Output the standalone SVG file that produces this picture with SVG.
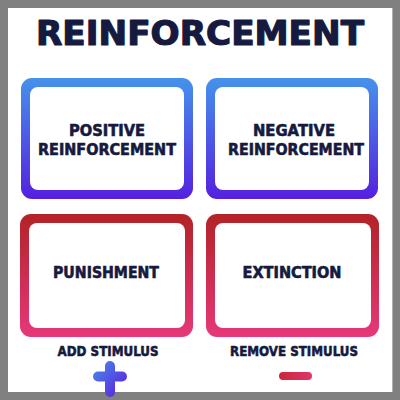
<svg xmlns="http://www.w3.org/2000/svg" width="400" height="400" viewBox="0 0 400 400">
<defs>
<linearGradient id="gBlue" x1="0" y1="0" x2="0" y2="1"><stop offset="0" stop-color="#4592ea"/><stop offset="1" stop-color="#5520e0"/></linearGradient>
<linearGradient id="gRed" x1="0" y1="0" x2="0" y2="1"><stop offset="0" stop-color="#b22327"/><stop offset="1" stop-color="#e6387a"/></linearGradient>
<linearGradient id="gPlus" x1="0" y1="0" x2="1" y2="1"><stop offset="0" stop-color="#4a7ee8"/><stop offset="1" stop-color="#5a28e0"/></linearGradient>
<linearGradient id="gMinus" x1="0" y1="0" x2="1" y2="0"><stop offset="0" stop-color="#c8283a"/><stop offset="1" stop-color="#e2356e"/></linearGradient>
<style>
.lbl{font-family:"DejaVu Sans","Liberation Sans",sans-serif;font-weight:bold;fill:#151a3e;stroke:#151a3e;stroke-width:0.6;stroke-linejoin:round;text-anchor:middle}
.box{font-size:15px}
.inner{fill:#ffffff}
</style>
</defs>
<rect x="0" y="0" width="400" height="400" fill="#808080"/>
<rect x="8" y="8" width="385" height="384" fill="#ffffff"/>
<text class="lbl" x="200" y="45" font-size="34" style="stroke-width:1.2" textLength="328" lengthAdjust="spacingAndGlyphs">REINFORCEMENT</text>
<g id="positive">
<rect x="21" y="78" width="172" height="121" rx="11" fill="url(#gBlue)"/>
<rect x="30" y="87" width="154" height="103" rx="8" class="inner"/>
<text class="lbl box" x="107" y="136" textLength="76" lengthAdjust="spacingAndGlyphs">POSITIVE</text>
<text class="lbl box" x="107" y="155" textLength="138" lengthAdjust="spacingAndGlyphs">REINFORCEMENT</text>
</g>
<g id="negative">
<rect x="206" y="78" width="172" height="121" rx="11" fill="url(#gBlue)"/>
<rect x="215" y="87" width="154" height="103" rx="8" class="inner"/>
<text class="lbl box" x="294" y="136" textLength="82" lengthAdjust="spacingAndGlyphs">NEGATIVE</text>
<text class="lbl box" x="296" y="155" textLength="136" lengthAdjust="spacingAndGlyphs">REINFORCEMENT</text>
</g>
<g id="punishment">
<rect x="20" y="214" width="173" height="123" rx="11" fill="url(#gRed)"/>
<rect x="29" y="223" width="156" height="105" rx="8" class="inner"/>
<text class="lbl box" x="106" y="278" textLength="106" lengthAdjust="spacingAndGlyphs">PUNISHMENT</text>
</g>
<g id="extinction">
<rect x="206" y="214" width="173" height="123" rx="11" fill="url(#gRed)"/>
<rect x="215" y="223" width="156" height="105" rx="8" class="inner"/>
<text class="lbl box" x="292" y="278" textLength="99" lengthAdjust="spacingAndGlyphs">EXTINCTION</text>
</g>
<g id="add-stimulus">
<text class="lbl" x="108" y="356" font-size="13.5" textLength="101" lengthAdjust="spacingAndGlyphs">ADD STIMULUS</text>
<path d="M110,366 V392 M98,376.5 H122" stroke="url(#gPlus)" stroke-width="10" stroke-linecap="round" fill="none"/>
</g>
<g id="remove-stimulus">
<text class="lbl" x="294" y="356" font-size="13.5" textLength="128" lengthAdjust="spacingAndGlyphs">REMOVE STIMULUS</text>
<rect x="279" y="372" width="33" height="8" rx="4" fill="url(#gMinus)"/>
</g>
<rect x="392" y="8" width="1" height="384" fill="#b0b0b0"/>
</svg>
